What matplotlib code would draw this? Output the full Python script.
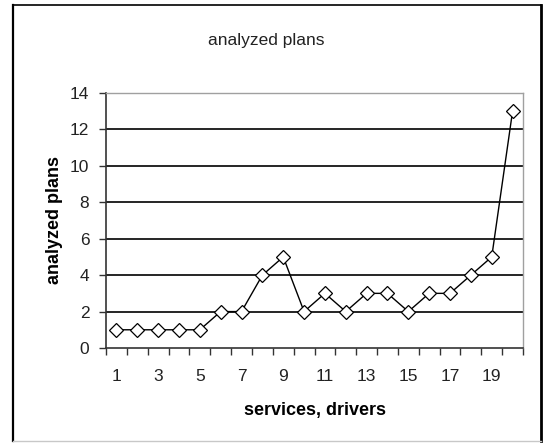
import matplotlib
matplotlib.use('Agg')
import matplotlib.pyplot as plt
from matplotlib.lines import Line2D
from matplotlib.ticker import FixedLocator, NullFormatter

plt.rcParams['font.family'] = ['Liberation Sans', 'DejaVu Sans']

# analyzed plans per number of services/drivers
services = list(range(1, 21))
plans = [1, 1, 1, 1, 1, 2, 2, 4, 5, 2, 3, 2, 3, 3, 2, 3, 3, 4, 5, 13]
tick_labels = [str(s) if s % 2 == 1 else '' for s in services]

W, H = 544, 443
fig = plt.figure(figsize=(W / 100, H / 100), dpi=100)
fig.patch.set_facecolor('white')

# outer chart frame
def px_line(x0, y0, x1, y1, color, lw):
    fig.add_artist(Line2D([x0 / W, x1 / W], [1 - y0 / H, 1 - y1 / H],
                          color=color, lw=lw, transform=fig.transFigure))

px_line(13, 5, 13, 441, 'black', 1.6)
px_line(13, 5, 541, 5, 'black', 1.2)
px_line(541, 5, 541, 441, 'black', 2.0)
px_line(13, 441, 541, 441, '#c8c8c8', 1.0)

left, right, top, bottom = 106, 523, 93, 348
ax = fig.add_axes([left / W, 1 - bottom / H, (right - left) / W, (bottom - top) / H])

ax.plot(services, plans, color='black', lw=1.0, marker='D', markersize=7.5,
        markerfacecolor='white', markeredgecolor='black', markeredgewidth=0.9,
        zorder=3)

ax.set_xlim(0.5, 20.5)
ax.set_ylim(0, 14)

# horizontal gridlines
for y in range(2, 14, 2):
    ax.axhline(y, color='black', lw=1.2, zorder=1)

ax.set_yticks(range(0, 15, 2))
ax.tick_params(axis='y', direction='out', length=5, width=1.0, pad=7,
               labelsize=12.5, colors='#333333', labelcolor='#222222')

# category ticks between points, labels under every other point
ax.set_xticks(services)
ax.set_xticklabels(tick_labels)
ax.xaxis.set_minor_locator(FixedLocator([s + 0.5 for s in range(0, 21)]))
ax.xaxis.set_minor_formatter(NullFormatter())
ax.tick_params(axis='x', which='major', length=0, pad=15, labelsize=12.5,
               labelcolor='#222222')
ax.tick_params(axis='x', which='minor', direction='out', length=5, width=1.0,
               colors='#333333')

for side in ('left', 'bottom'):
    ax.spines[side].set_color('#333333')
    ax.spines[side].set_linewidth(1.2)
for side in ('top', 'right'):
    ax.spines[side].set_color('#a0a0a0')
    ax.spines[side].set_linewidth(1.0)

ax.set_xlabel('services, drivers', fontsize=13, fontweight='bold', labelpad=13)
ax.set_ylabel('analyzed plans', fontsize=13, fontweight='bold', labelpad=5)

fig.text(266 / W, 1 - 40 / H, 'analyzed plans', ha='center', va='center',
         fontsize=12.5, color='#222222')

plt.savefig('out.png', dpi=100)
